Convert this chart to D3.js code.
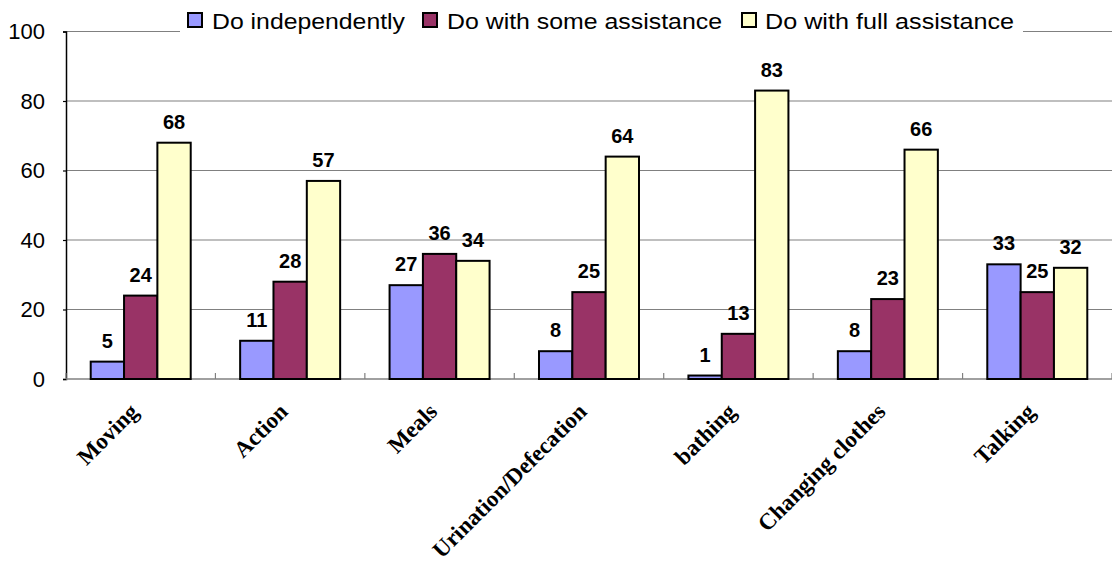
<!DOCTYPE html>
<html>
<head>
<meta charset="utf-8">
<script src="https://cdn.jsdelivr.net/npm/d3@7"></script>
<style>
  html, body { margin: 0; padding: 0; background: #fff; }
  svg { display: block; }
</style>
</head>
<body>
<svg id="chart" width="1112" height="563"></svg>
<script>
// Activities of daily living and the level of help needed (%)
const categories = ["Moving", "Action", "Meals", "Urination/Defecation", "bathing", "Changing clothes", "Talking"];
const seriesNames = ["Do independently", "Do with some assistance", "Do with full assistance"];
const independently = [5, 11, 27, 8, 1, 8, 33];
const someAssistance = [24, 28, 36, 25, 13, 23, 25];
const fullAssistance = [68, 57, 34, 64, 83, 66, 32];
const yTicks = [0, 20, 40, 60, 80, 100];

const colors = ["#9999FF", "#993366", "#FFFFCC"];
const seriesValues = [independently, someAssistance, fullAssistance];

const svg = d3.select("#chart");
const plot = { left: 66, right: 1112, top: 31.5, bottom: 379 };

const x0 = d3.scaleBand().domain(categories).range([plot.left, plot.right]).paddingInner(0).paddingOuter(0);
const groupPad = (x0.bandwidth() - 100) / 2;
const x1 = d3.scaleBand().domain(seriesNames).range([groupPad, groupPad + 100]).padding(0);
const y = d3.scaleLinear().domain([0, 100]).range([plot.bottom, plot.top]);

// Horizontal gridlines
svg.append("g")
  .selectAll("line")
  .data(yTicks.filter(d => d > 0))
  .join("line")
  .attr("x1", plot.left).attr("x2", plot.right)
  .attr("y1", d => y(d)).attr("y2", d => y(d))
  .attr("stroke", "#808080").attr("stroke-width", 1.2);

// Y axis
const yAxis = svg.append("g")
  .attr("transform", `translate(${plot.left},0)`)
  .call(d3.axisLeft(y).tickValues(yTicks).tickSize(3).tickPadding(18));
yAxis.select(".domain").attr("stroke", "#000").attr("stroke-width", 1.5);
yAxis.selectAll(".tick line").attr("stroke", "#000").attr("stroke-width", 1.2);
yAxis.selectAll(".tick text")
  .attr("font-family", "'Liberation Sans', Arial, sans-serif")
  .attr("font-size", 22).attr("fill", "#000");

// X axis baseline with upward boundary ticks
svg.append("line")
  .attr("x1", plot.left).attr("x2", plot.right)
  .attr("y1", plot.bottom).attr("y2", plot.bottom)
  .attr("stroke", "#808080").attr("stroke-width", 1.5);
const boundaries = categories.map(c => x0(c)).concat([plot.right]);
svg.append("g").selectAll("line")
  .data(boundaries)
  .join("line")
  .attr("x1", d => d).attr("x2", d => d)
  .attr("y1", plot.bottom).attr("y2", plot.bottom - 6)
  .attr("stroke", "#808080").attr("stroke-width", 1.2);

// Bars
const groups = svg.append("g").selectAll("g")
  .data(categories)
  .join("g")
  .attr("transform", d => `translate(${x0(d)},0)`);

groups.selectAll("rect")
  .data((c, i) => seriesNames.map((s, k) => ({ s, k, v: seriesValues[k][i] })))
  .join("rect")
  .attr("x", d => x1(d.s))
  .attr("width", x1.bandwidth())
  .attr("y", d => y(d.v))
  .attr("height", d => y(0) - y(d.v))
  .attr("fill", d => colors[d.k])
  .attr("stroke", "#000")
  .attr("stroke-width", 2);

// Value labels
groups.selectAll("text.val")
  .data((c, i) => seriesNames.map((s, k) => ({ s, k, v: seriesValues[k][i] })))
  .join("text")
  .attr("class", "val")
  .attr("x", d => x1(d.s) + x1.bandwidth() / 2)
  .attr("y", d => y(d.v) - 14)
  .attr("text-anchor", "middle")
  .attr("font-family", "'Liberation Sans', Arial, sans-serif")
  .attr("font-weight", "bold")
  .attr("font-size", 20)
  .attr("fill", "#000")
  .text(d => d.v);

// Category labels, rotated
svg.append("g").selectAll("text")
  .data(categories)
  .join("text")
  .attr("transform", d => `translate(${x0(d) + x0.bandwidth() / 2 - 1},${plot.bottom + 34}) rotate(-45)`)
  .attr("text-anchor", "end")
  .attr("font-family", "'Liberation Serif', 'Times New Roman', serif")
  .attr("font-weight", "bold")
  .attr("font-size", 23)
  .attr("fill", "#000")
  .text(d => d);

// Legend (white backing interrupts the top gridline)
const legendItems = [
  { name: seriesNames[0], box: 188, text: 212, len: 193 },
  { name: seriesNames[1], box: 423, text: 447, len: 275 },
  { name: seriesNames[2], box: 742, text: 765, len: 249 }
];
const legend = svg.append("g");
legend.append("rect")
  .attr("x", 180).attr("y", 2).attr("width", 843).attr("height", 40)
  .attr("fill", "#fff");
legend.selectAll("rect.key")
  .data(legendItems)
  .join("rect")
  .attr("class", "key")
  .attr("x", d => d.box).attr("y", 13)
  .attr("width", 14).attr("height", 14)
  .attr("fill", (d, i) => colors[i])
  .attr("stroke", "#000").attr("stroke-width", 2);
legend.selectAll("text")
  .data(legendItems)
  .join("text")
  .attr("x", d => d.text).attr("y", 28.5)
  .attr("font-family", "'Liberation Sans', Arial, sans-serif")
  .attr("font-size", 22)
  .attr("textLength", d => d.len)
  .attr("lengthAdjust", "spacingAndGlyphs")
  .attr("fill", "#000")
  .text(d => d.name);
</script>
</body>
</html>
